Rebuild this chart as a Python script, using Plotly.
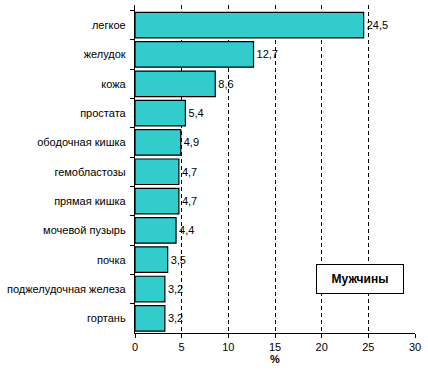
import plotly.graph_objects as go

categories = ["легкое", "желудок", "кожа", "простата", "ободочная кишка",
              "гемобластозы", "прямая кишка", "мочевой пузырь", "почка",
              "поджелудочная железа", "гортань"]
values = [24.5, 12.7, 8.6, 5.4, 4.9, 4.7, 4.7, 4.4, 3.5, 3.2, 3.2]
x_ticks = [0, 5, 10, 15, 20, 25, 30]
grid_vals = [5, 10, 15, 20, 25]
legend_text = "Мужчины"
x_title = "%"

labels = [f"{v:.1f}".replace(".", ",") for v in values]
FONT = "Arial, Liberation Sans, sans-serif"

fig = go.Figure()
fig.add_trace(go.Bar(
    x=values, y=categories, orientation="h",
    marker=dict(color="#33CCCC", line=dict(color="black", width=1.2)),
    width=0.87,
    text=labels, textposition="outside", cliponaxis=False,
    textfont=dict(family=FONT, size=11, color="black"),
    xaxis="x", yaxis="y",
))
fig.add_trace(go.Scatter(x=[0], y=[categories[0]], mode="markers",
                         marker=dict(opacity=0), xaxis="x2", yaxis="y",
                         showlegend=False, hoverinfo="skip"))

fig.update_layout(
    width=428, height=376,
    margin=dict(l=135, r=13, t=5, b=43),
    paper_bgcolor="white", plot_bgcolor="white",
    showlegend=False,
    font=dict(family=FONT, size=11, color="black"),
    xaxis=dict(range=[0, 30], tickvals=x_ticks, showgrid=False,
               showline=True, linecolor="black", linewidth=1,
               ticks="outside", ticklen=4, tickcolor="black",
               zeroline=False,
               title=dict(text="<b>" + x_title + "</b>", font=dict(size=11), standoff=0)),
    xaxis2=dict(range=[0, 30], overlaying="x", tickvals=grid_vals,
                showgrid=True, griddash="4px,3px", gridcolor="black", gridwidth=1,
                showticklabels=False, ticks="", showline=False, zeroline=False),
    yaxis=dict(type="category", autorange="reversed",
               showline=True, linecolor="black", linewidth=1,
               ticks="outside", ticklen=4, tickcolor="black",
               tickson="boundaries", showgrid=False, ticksuffix="  ",
               tickfont=dict(size=11)),
)

fig.add_annotation(
    xref="paper", yref="paper", x=0.804, y=0.165,
    xanchor="center", yanchor="middle",
    text="<b>" + legend_text + "</b>", showarrow=False,
    font=dict(family=FONT, size=12, color="black"),
    bgcolor="white", bordercolor="black", borderwidth=1,
    width=84, height=26,
)

fig.write_html("out.html")
